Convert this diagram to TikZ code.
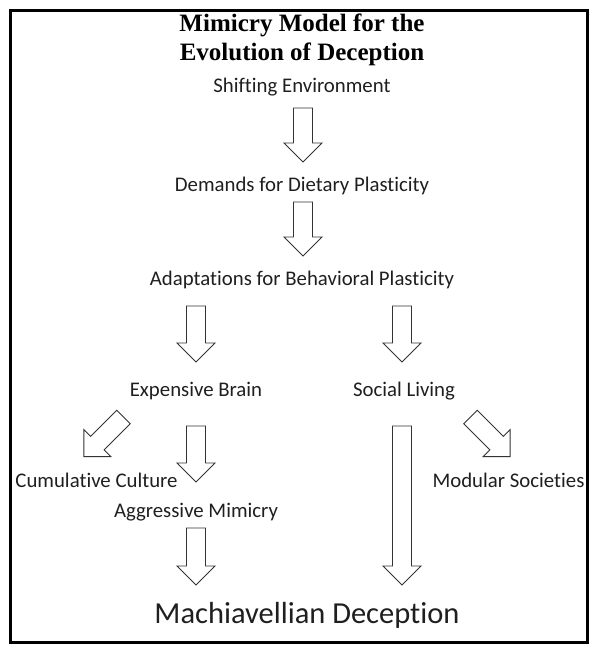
\documentclass[tikz,border=0pt]{standalone}
\usepackage{fontspec}
\setmainfont{Carlito}[Ligatures=NoCommon]
\newfontfamily\titlefont{Liberation Serif}
\begin{document}
\begin{tikzpicture}[x=1pt,y=-1pt,
  lbl/.style={font=\fontsize{20.8}{24}\selectfont, text=black!88, inner sep=0pt, anchor=center},
  ttl/.style={font=\titlefont\bfseries\fontsize{25}{28}\selectfont, inner sep=0pt, anchor=base},
  blk/.style={draw=black!80, line width=0.9pt, fill=white, line join=miter}]
\useasboundingbox (0,0) rectangle (594,649);
\draw[line width=2.6pt] (10.5,10.5) rectangle (587.5,642.5);
% texts
\node[ttl] (t1) at (302,31.5) {Mimicry Model for the};
\node[ttl] (t2) at (302,60.5) {Evolution of Deception};
\node[lbl] (se) at (302,87) {Shifting Environment};
\node[lbl] (dd) at (302,186) {Demands for Dietary Plasticity};
\node[lbl] (ab) at (302,280) {Adaptations for Behavioral Plasticity};
\node[lbl] (eb) at (196,391) {Expensive Brain};
\node[lbl] (sl) at (404,391) {Social Living};
\node[lbl] (cc) at (96.5,480) {Cumulative Culture};
\node[lbl] (ms) at (508.5,480) {Modular Societies};
\node[lbl] (am) at (196,512) {Aggressive Mimicry};
\node[lbl, font=\fontsize{30.5}{34}\selectfont] (md) at (307,615) {Machiavellian Deception};
% block arrow: #1 tail centre, #2 angle, #3 length
\newcommand{\barrow}[3]{%
  \begin{scope}[shift={#1}, rotate=#2]
    \draw[blk] (0,-9.5) -- (#3-19,-9.5) -- (#3-19,-19) -- (#3,0) -- (#3-19,19) -- (#3-19,9.5) -- (0,9.5) -- cycle;
  \end{scope}}
\coordinate (a1) at (303,108);
\coordinate (a2) at (303,202);
\coordinate (a3) at (196,306);
\coordinate (a4) at (402,306);
\coordinate (a5) at (196,426);
\coordinate (a6) at (402,426);
\coordinate (a7) at (196,528);
\coordinate (a8) at (123.5,417);
\coordinate (a9) at (470.5,417);
\barrow{(a1)}{-90}{54}
\barrow{(a2)}{-90}{54}
\barrow{(a3)}{-90}{56}
\barrow{(a4)}{-90}{56}
\barrow{(a5)}{-90}{56}
\barrow{(a6)}{-90}{159}
\barrow{(a7)}{-90}{57}
\barrow{(a8)}{-135}{56}
\barrow{(a9)}{-45}{56}
\end{tikzpicture}
\end{document}
